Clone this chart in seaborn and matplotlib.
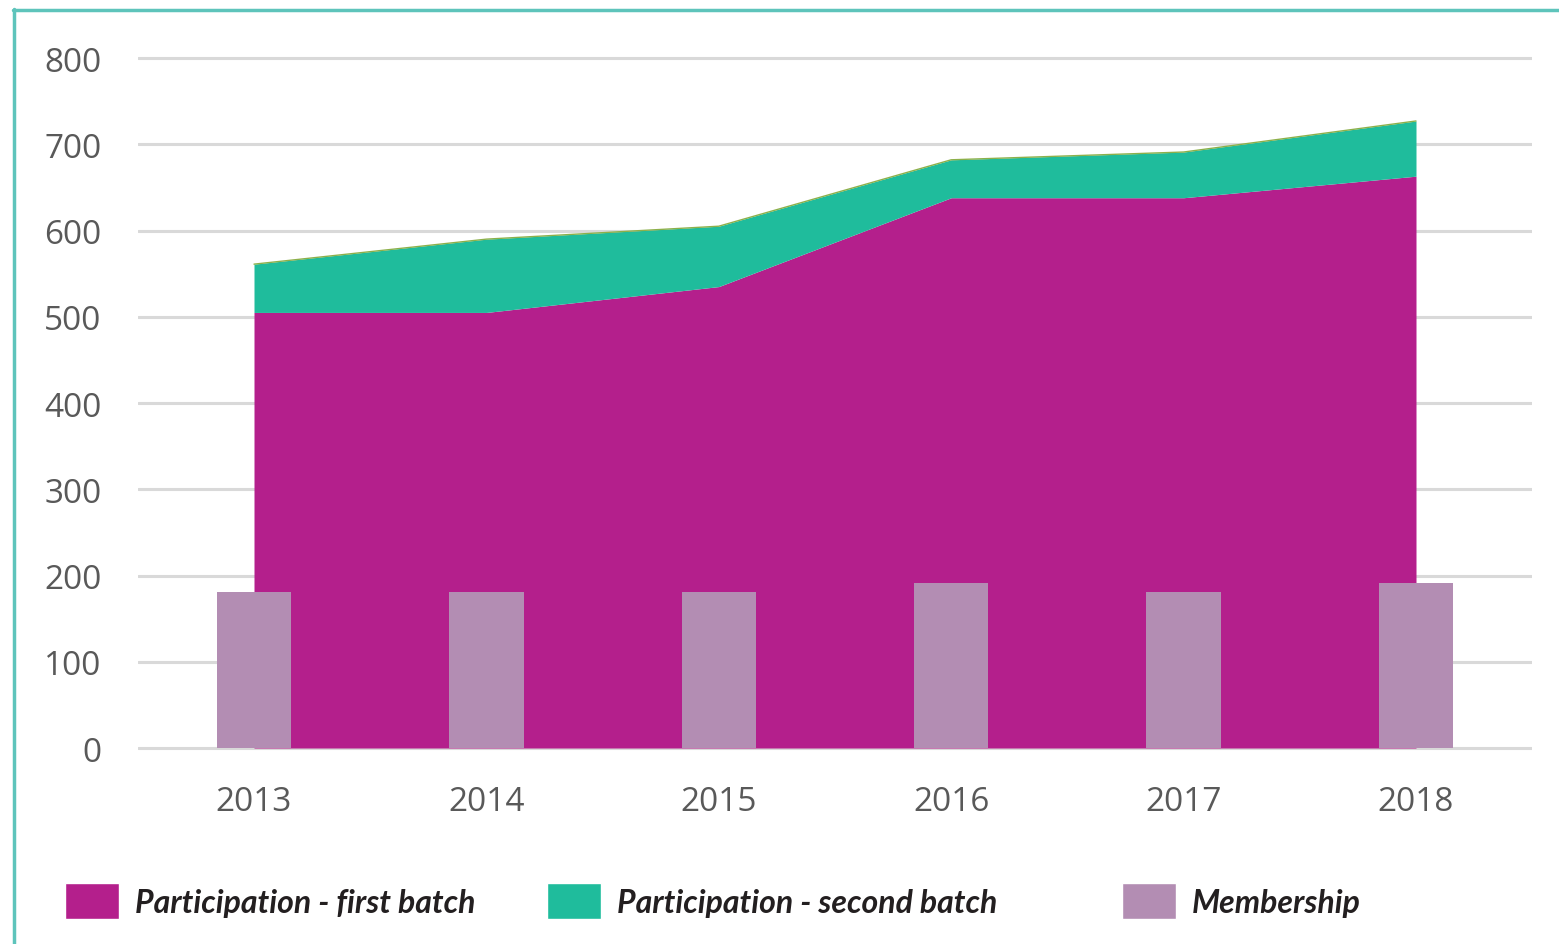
import numpy as np
import pandas as pd
import matplotlib
matplotlib.use("Agg")
import matplotlib.pyplot as plt
import seaborn as sns
from matplotlib.patches import Patch
from matplotlib.lines import Line2D

years = ["2013", "2014", "2015", "2016", "2017", "2018"]
first_batch = [505, 505, 535, 638, 638, 663]
second_batch = [56, 85, 70, 44, 53, 64]
membership = [181, 181, 181, 191, 181, 191]
y_ticks = [0, 100, 200, 300, 400, 500, 600, 700, 800]
legend_labels = ["Participation - first batch", "Participation - second batch", "Membership"]

c_first = "#B41F8C"
c_second = "#1FBC9C"
c_member = "#B38DB3"

sns.set_theme(style="white")
plt.rcParams["font.family"] = ["Open Sans", "DejaVu Sans"]

fig = plt.figure(figsize=(15.59, 9.45), dpi=100)
ax = fig.add_axes([137.8 / 1559, 1 - 751.6 / 945, (1532.2 - 137.8) / 1559, (751.6 - 54.7) / 945])

x = np.arange(len(years))
first = np.array(first_batch)
total = first + np.array(second_batch)
ax.fill_between(x, 0, first, color=c_first, lw=0, zorder=2)
ax.fill_between(x, first, total, color=c_second, lw=0, zorder=2)
ax.plot(x, total, color="#8DB04A", lw=1, zorder=2.5)

df = pd.DataFrame({"year": years, "membership": membership})
sns.barplot(data=df, x="year", y="membership", color=c_member, saturation=1,
            width=0.32, ax=ax, zorder=3, linewidth=0)

ax.set_xlim(-0.5, 5.5)
ax.set_ylim(-3, 805)
ax.set_yticks(y_ticks)
ax.set_xlabel("")
ax.set_ylabel("")
ax.grid(axis="y", color="#D9D9D9", lw=2.2, zorder=0)
ax.set_axisbelow(True)
for s in ax.spines.values():
    s.set_visible(False)
ax.tick_params(axis="both", length=0, labelsize=24, labelcolor="#595959")
ax.tick_params(axis="y", pad=26)
ax.tick_params(axis="x", pad=25)

# legend
handles = [Patch(facecolor=c_first), Patch(facecolor=c_second), Patch(facecolor=c_member)]
xs = [65, 547, 1122]
for h, lab, xp in zip(handles, legend_labels, xs):
    leg = fig.legend([h], [lab], loc="center left", bbox_to_anchor=(xp / 1559, 1 - 902 / 945),
                     frameon=False, borderpad=0, borderaxespad=0, handlelength=1.69,
                     handleheight=1.38, handletextpad=0.5,
                     prop={"family": ["Lato", "DejaVu Sans"], "weight": "bold", "style": "italic", "size": 23})
    for t in leg.get_texts():
        t.set_color("#231F20")

# frame lines
fig.add_artist(Line2D([14 / 1559, 14 / 1559], [0, 1 - 10 / 945], color="#5EC4BB", lw=2.5))
fig.add_artist(Line2D([13 / 1559, 1], [1 - 11 / 945, 1 - 11 / 945], color="#5EC4BB", lw=2.5))

fig.savefig("out.png", dpi=100)
